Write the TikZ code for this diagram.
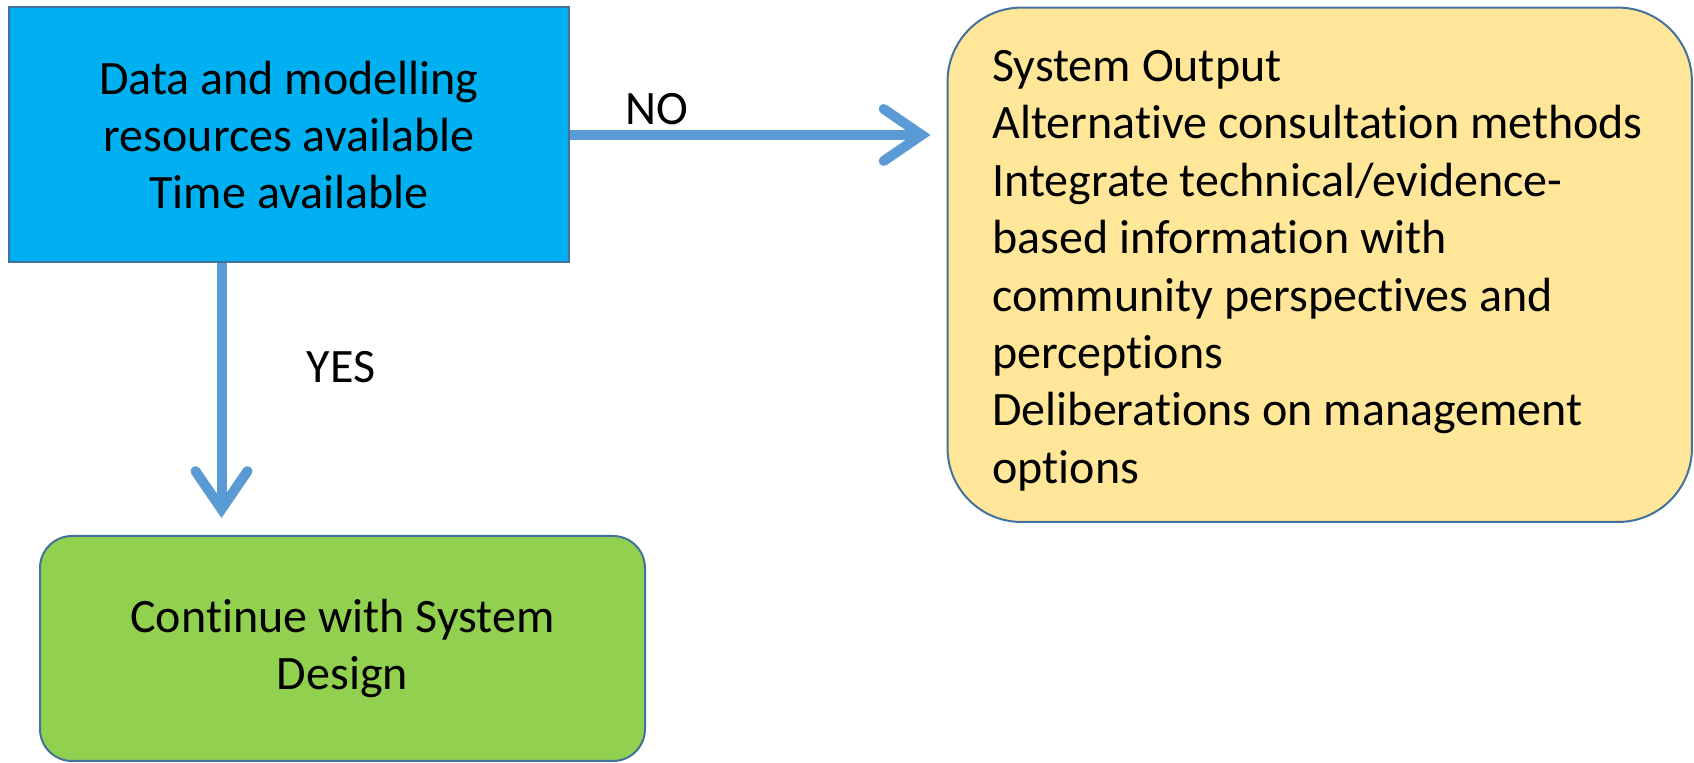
\documentclass[tikz,border=0pt]{standalone}
\usepackage{fontspec}
\setmainfont{Carlito}[Ligatures={NoCommon}]
\usetikzlibrary{arrows.meta}
\definecolor{boxblue}{HTML}{00B0F0}
\definecolor{edgeblue}{HTML}{41719C}
\definecolor{arrowblue}{HTML}{5B9BD5}
\definecolor{outyellow}{HTML}{FFE699}
\definecolor{goodgreen}{HTML}{92D050}
\begin{document}
\begin{tikzpicture}[x=0.5pt,y=-0.5pt,
  box/.style={draw=edgeblue, line width=1pt, inner sep=0pt},
  txt/.style={font=\fontsize{24pt}{28.7pt}\selectfont},
  flow/.style={draw=arrowblue, line width=5pt,
    -{Straight Barb[length=19pt,width=26pt,line cap=round,line join=miter]}}]
\useasboundingbox (0,0) rectangle (1694,763);

% question box
\node[box, fill=boxblue, minimum width=280.2pt, minimum height=127.5pt,
      txt, align=center] (q) at (289,135)
  {Data and modelling\\resources available\\Time available};

% outcome boxes
\node[box, fill=outyellow, rounded corners=37pt,
      minimum width=372.2pt, minimum height=257.2pt] (out) at (1319.75,264.8) {};
\node[txt, align=left, anchor=north west, inner sep=0pt] (outtext) at (992,50)
  {System Output\\Alternative consultation methods\\Integrate technical/evidence-\\based information with\\community perspectives and\\perceptions\\Deliberations on management\\options};

\node[box, fill=goodgreen, rounded corners=16pt,
      minimum width=302.5pt, minimum height=112.5pt, txt, align=center] (ok) at (342.5,648.5)
  {Continue with System\\Design};

% decisions
\draw[flow, shorten >=8pt] (q.east) -- (q.east -| out.west);
\draw[flow, shorten >=8.5pt] ([xshift=-33.75pt]q.south) -- ([xshift=-33.75pt]q.south |- ok.north);

\node[txt] (no) at (657,109) {NO};
\node[txt] (yes) at (341,367) {YES};
\end{tikzpicture}
\end{document}
